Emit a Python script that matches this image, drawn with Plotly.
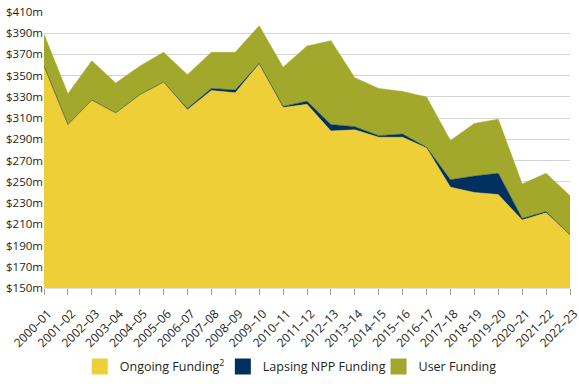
import plotly.graph_objects as go

categories = ["2000–01", "2001–02", "2002–03", "2003–04", "2004–05", "2005–06",
              "2006–07", "2007–08", "2008–09", "2009–10", "2010–11", "2011–12",
              "2012–13", "2013–14", "2014–15", "2015–16", "2016–17", "2017–18",
              "2018–19", "2019–20", "2020–21", "2021–22", "2022–23"]
ongoing = [359, 304, 327, 315, 332, 344, 318, 336, 334, 361, 320, 323,
           298, 299, 292, 292, 282, 245, 240, 238, 214, 221, 200]
lapsing = [0, 0, 0, 0, 0, 0, 1, 2, 2.5, 0.5, 1, 3,
           6, 3, 1.5, 3, 0.5, 7, 15.5, 20, 1.5, 1, 0]
user = [30, 29, 37, 28, 27, 28, 32, 34, 35.5, 35.5, 37, 52,
        79, 46, 44.5, 40, 47.5, 37, 49.5, 51, 32.5, 36, 37]
y_ticks = list(range(150, 411, 20))
y_labels = [f"${v}m" for v in y_ticks]

names = ["Ongoing Funding<sup>2</sup>", "Lapsing NPP Funding", "User Funding"]
colors = ["#EFCF38", "#00305F", "#A2A82B"]
series = [ongoing, lapsing, user]
legend_ids = ["legend", "legend2", "legend3"]
legend_x = [0.068, 0.340, 0.636]

fig = go.Figure()
for name, col, vals in zip(names, colors, series):
    fig.add_trace(go.Scatter(
        x=categories, y=vals, stackgroup="one", mode="lines",
        line=dict(width=0.5, color=col), fillcolor=col,
        name=name, showlegend=False, hoverinfo="skip"))
for name, col, lid in zip(names, colors, legend_ids):
    fig.add_trace(go.Scatter(
        x=[None], y=[None], mode="markers", name=name, legend=lid,
        marker=dict(symbol="square", size=16, color=col)))

leg_common = dict(orientation="h", xanchor="left", y=-0.286, yanchor="middle",
                  font=dict(size=12.5), itemwidth=30, bgcolor="rgba(0,0,0,0)")
fig.update_layout(
    width=579, height=384,
    margin=dict(l=44, r=9, t=12, b=96, autoexpand=False),
    paper_bgcolor="white", plot_bgcolor="white",
    font=dict(family="Open Sans", size=11, color="#231F20"),
    legend=dict(x=legend_x[0], **leg_common),
    legend2=dict(x=legend_x[1], **leg_common),
    legend3=dict(x=legend_x[2], **leg_common),
    xaxis=dict(range=[0, 22], showgrid=False, ticks="outside", ticklen=6,
               tickcolor="#A0A0A0", tickangle=-45, showline=True,
               linecolor="#E0E0E0", tickfont=dict(size=12), automargin=False,
               ticklabelstandoff=7, ticklabelshift=4),
    yaxis=dict(range=[150, 410], tickvals=y_ticks, ticktext=y_labels,
               showgrid=True, gridcolor="#D4D4D4", gridwidth=1,
               zeroline=False, tickfont=dict(size=11.5), automargin=False),
)
fig.write_html("out.html", config={"displayModeBar": False},
               post_script="document.body.style.margin='0';"
                           "document.body.style.overflow='hidden';")
